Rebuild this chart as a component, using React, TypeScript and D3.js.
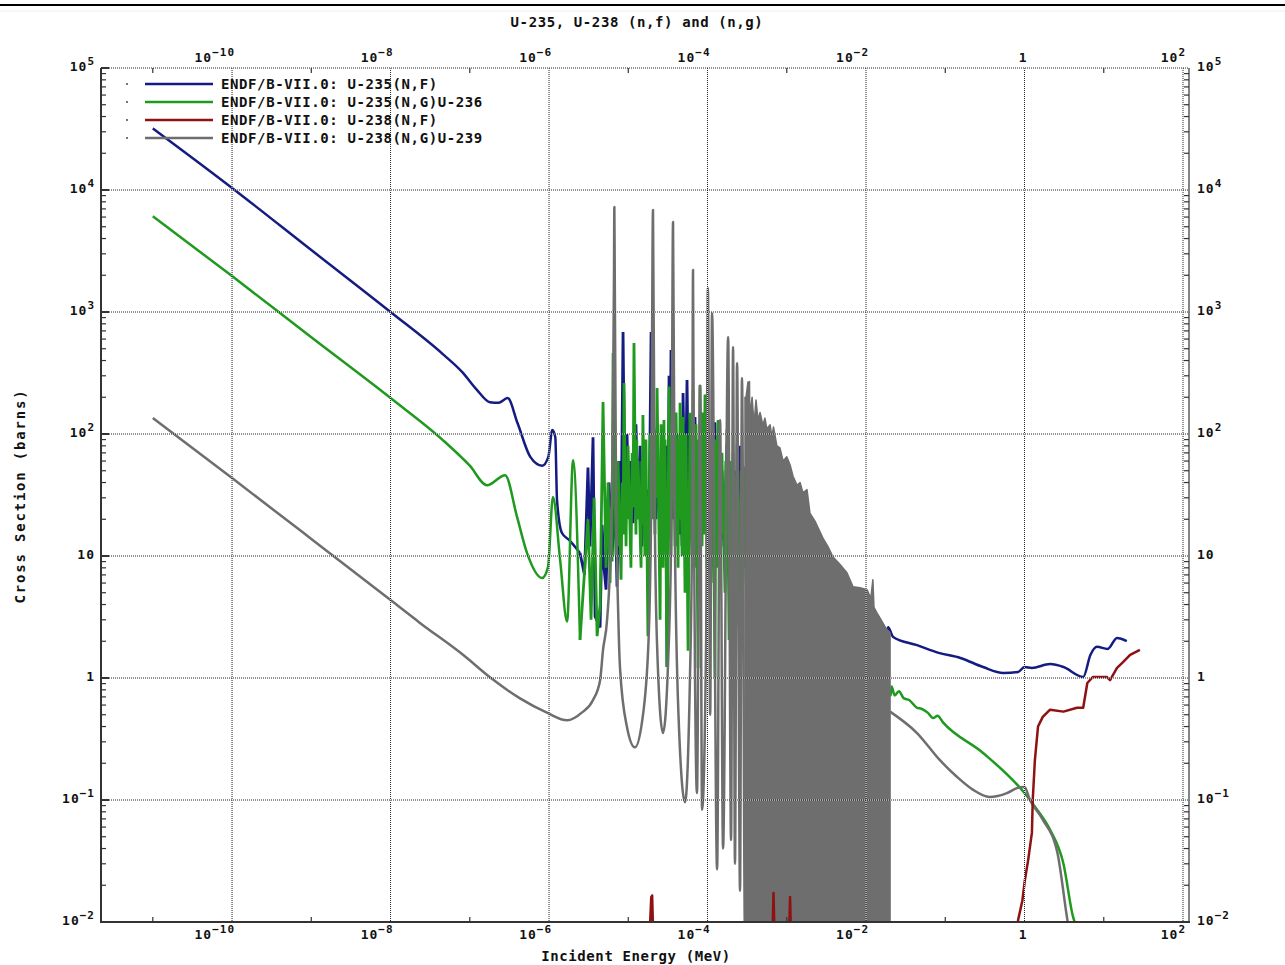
import React from "react";
import * as d3 from "d3";

type Pt = [number, number];

// ---------- text ----------
const TITLE = "U-235, U-238 (n,f) and (n,g)";
const X_LABEL = "Incident Energy (MeV)";
const Y_LABEL = "Cross Section (barns)";
const legendLabels = [
  "ENDF/B-VII.0: U-235(N,F)",
  "ENDF/B-VII.0: U-235(N,G)U-236",
  "ENDF/B-VII.0: U-238(N,F)",
  "ENDF/B-VII.0: U-238(N,G)U-239",
];
const seriesColors = ["#141c82", "#1f9a1f", "#8e1212", "#6e6e6e"];

// ---------- axes ----------
const xDomain: [number, number] = [2.22e-12, 119];
const yDomain: [number, number] = [1e-2, 1e5];
const xMajorTicks = [1e-10, 1e-8, 1e-6, 1e-4, 1e-2, 1, 1e2];
const xMajorLabels: [string, string][] = [
  ["10", "\u221210"], ["10", "\u22128"], ["10", "\u22126"], ["10", "\u22124"], ["10", "\u22122"], ["1", ""], ["10", "2"],
];
const xMinorTicks = [1e-11, 1e-9, 1e-7, 1e-5, 1e-3, 1e-1, 1e1];
const yMajorTicks = [1e5, 1e4, 1e3, 1e2, 10, 1, 1e-1, 1e-2];
const yMajorLabels: [string, string][] = [
  ["10", "5"], ["10", "4"], ["10", "3"], ["10", "2"], ["10", ""], ["1", ""], ["10", "\u22121"], ["10", "\u22122"],
];

// resolved-resonance windows of U-235 curves (drawn as straight segments)
const u235FissionResonances: [number, number] = [2.46e-6, 7.6e-4];
const u235CaptureResonances: [number, number] = [2.46e-6, 4.34e-4];

// ---------- data: [energy MeV, cross section barns] ----------
const u235Fission: Pt[] = [
  [1e-11, 32000], [1e-10, 10400], [1e-9, 3220], [1e-8, 1000], [4.6e-8, 450], [8.1e-8, 320], [1.23e-7, 230],
  [1.8e-7, 182], [2.3e-7, 180], [3.0e-7, 197], [4.0e-7, 123], [5.8e-7, 65], [8.2e-7, 55], [9.8e-7, 65],
  [1.1e-6, 108], [1.2e-6, 94], [1.26e-6, 29], [1.45e-6, 15.5], [1.8e-6, 13.5], [2.46e-6, 10.6], [2.8e-6, 7.0],
  [3.1e-6, 53], [3.29e-6, 12], [3.59e-6, 94], [3.81e-6, 3.2], [4.41e-6, 2.6], [4.67e-6, 18], [4.94e-6, 8],
  [5.24e-6, 5.3], [5.72e-6, 40], [6.24e-6, 10], [6.81e-6, 30], [7.21e-6, 5.6], [7.65e-6, 60], [8.1e-6, 15],
  [8.59e-6, 686], [9.1e-6, 20], [9.64e-6, 100], [1.02e-5, 25], [1.08e-5, 60], [1.15e-5, 18.6], [1.25e-5, 120],
  [1.33e-5, 20], [1.41e-5, 80], [1.49e-5, 12], [1.58e-5, 50], [1.67e-5, 10], [1.72e-5, 35], [1.82e-5, 12],
  [1.94e-5, 686], [2.05e-5, 30], [2.17e-5, 100], [2.24e-5, 20], [2.37e-5, 60], [2.52e-5, 15], [2.67e-5, 90],
  [2.83e-5, 20], [2.99e-5, 80], [3.08e-5, 1.23], [3.27e-5, 300], [3.37e-5, 40], [3.46e-5, 489], [3.67e-5, 20],
  [3.78e-5, 60], [4.01e-5, 15], [4.13e-5, 100], [4.37e-5, 15], [4.5e-5, 80], [4.77e-5, 12], [4.91e-5, 217],
  [5.2e-5, 18], [5.51e-5, 277], [5.85e-5, 15], [6.01e-5, 90], [6.37e-5, 14], [6.95e-5, 138], [7.36e-5, 14],
  [7.59e-5, 70], [8.04e-5, 16], [8.53e-5, 90], [9.04e-5, 20], [9.57e-5, 100], [1.01e-4, 15], [1.08e-4, 60],
  [1.14e-4, 12], [1.24e-4, 125], [1.32e-4, 18], [1.4e-4, 70], [1.48e-4, 14], [1.52e-4, 50], [1.61e-4, 12],
  [1.76e-4, 84], [1.87e-4, 15], [1.98e-4, 40], [2.1e-4, 12], [2.22e-4, 50], [2.36e-4, 14], [2.57e-4, 80],
  [2.72e-4, 14], [2.89e-4, 45], [3.06e-4, 12], [3.24e-4, 40], [3.44e-4, 12], [3.65e-4, 50], [3.98e-4, 14],
  [4.34e-4, 58], [4.73e-4, 16], [5.0e-4, 40], [5.5e-4, 14], [5.8e-4, 45], [6.3e-4, 14], [6.8e-4, 38],
  [7.4e-4, 15], [7.6e-4, 38], [1e-3, 16], [2e-3, 9], [5e-3, 5], [1e-2, 3.6], [0.0174, 2.57], [0.0185, 2.3],
  [0.019, 2.6], [0.022, 2.17], [0.044, 1.86], [0.085, 1.6], [0.155, 1.46], [0.3, 1.23], [0.54, 1.1],
  [0.83, 1.12], [1.0, 1.23], [1.24, 1.21], [2.1, 1.3], [3.1, 1.23], [5.5, 1.02], [6.8, 1.55], [8.2, 1.8],
  [11.2, 1.73], [14.7, 2.13], [19.5, 2.01],
];

const u235Capture: Pt[] = [
  [1e-11, 6100], [1e-10, 1970], [1e-9, 620], [1e-8, 197], [4.5e-8, 90], [1.0e-7, 55], [1.65e-7, 38],
  [2.79e-7, 46], [3.94e-7, 21], [5.27e-7, 10.6], [8.2e-7, 6.6], [9.7e-7, 8.1], [1.12e-6, 30.5], [1.38e-6, 9.3],
  [1.69e-6, 2.9], [2.01e-6, 61], [2.46e-6, 2.05], [3.1e-6, 20], [3.39e-6, 3], [3.7e-6, 30], [4.04e-6, 2.2],
  [4.41e-6, 4], [4.8e-6, 183], [5.24e-6, 8], [5.55e-6, 40], [5.89e-6, 6], [6.1e-6, 25], [6.25e-6, 9],
  [6.43e-6, 461], [7.0e-6, 10], [7.2e-6, 35], [7.3e-6, 12], [7.43e-6, 60], [8.1e-6, 6.4], [8.4e-6, 40],
  [8.6e-6, 15], [8.84e-6, 262], [9.37e-6, 12], [9.6e-6, 45], [9.75e-6, 20], [9.93e-6, 80], [1.08e-5, 8],
  [1.12e-5, 70], [1.15e-5, 25], [1.18e-5, 557], [1.25e-5, 15], [1.28e-5, 90], [1.3e-5, 20], [1.33e-5, 60],
  [1.45e-5, 8], [1.48e-5, 60], [1.5e-5, 18], [1.53e-5, 143], [1.62e-5, 10], [1.67e-5, 90], [1.77e-5, 2.2],
  [1.88e-5, 100], [2.0e-5, 20], [2.05e-5, 420], [2.17e-5, 15], [2.23e-5, 110], [2.27e-5, 30], [2.31e-5, 238],
  [2.52e-5, 3], [2.59e-5, 120], [2.75e-5, 8], [2.82e-5, 130], [2.86e-5, 25], [2.91e-5, 90], [3.08e-5, 1.23],
  [3.27e-5, 245], [3.46e-5, 10], [3.55e-5, 120], [3.6e-5, 30], [3.67e-5, 217], [3.89e-5, 12], [4.01e-5, 150],
  [4.25e-5, 8], [4.35e-5, 90], [4.42e-5, 20], [4.5e-5, 180], [4.77e-5, 10], [4.91e-5, 138], [5.2e-5, 5],
  [5.36e-5, 100], [5.68e-5, 1.67], [6.01e-5, 149], [6.37e-5, 10], [6.45e-5, 80], [6.5e-5, 25], [6.56e-5, 230],
  [6.95e-5, 8], [7.16e-5, 120], [7.59e-5, 1.2], [7.8e-5, 90], [7.9e-5, 20], [8.04e-5, 252], [8.53e-5, 12],
  [8.78e-5, 150], [9.04e-5, 15], [9.29e-5, 211], [9.85e-5, 8], [1.01e-4, 70], [1.025e-4, 20], [1.04e-4, 100],
  [1.11e-4, 6], [1.14e-4, 60], [1.155e-4, 15], [1.17e-4, 119], [1.24e-4, 1.0], [1.28e-4, 90], [1.32e-4, 8],
  [1.36e-4, 130], [1.44e-4, 6], [1.48e-4, 50], [1.5e-4, 15], [1.52e-4, 70], [1.66e-4, 5], [1.7e-4, 60],
  [1.73e-4, 12], [1.76e-4, 110], [1.87e-4, 2.05], [1.92e-4, 60], [2.04e-4, 8], [2.1e-4, 70], [2.22e-4, 6],
  [2.29e-4, 45], [2.32e-4, 10], [2.36e-4, 84], [2.5e-4, 3.3], [2.65e-4, 50], [2.8e-4, 8], [2.89e-4, 54],
  [3.06e-4, 6], [3.15e-4, 40], [3.34e-4, 5.6], [3.44e-4, 31], [3.65e-4, 6], [3.76e-4, 25], [3.98e-4, 5.6],
  [4.09e-4, 20], [4.34e-4, 6], [1e-3, 4], [3e-3, 2.2], [1e-2, 1.1], [0.0195, 0.8], [0.0205, 0.72],
  [0.021, 0.85], [0.023, 0.72], [0.026, 0.78], [0.03, 0.68], [0.035, 0.66], [0.044, 0.57], [0.05, 0.56],
  [0.06, 0.52], [0.07, 0.47], [0.08, 0.49], [0.093, 0.435], [0.3, 0.243], [1.0, 0.114], [1.45, 0.083],
  [2.1, 0.057], [3.1, 0.03], [4.1, 0.011], [4.4, 0.0095],
];

const u238Fission: Pt[] = [
  [1.8e-5, 0.005], [1.95e-5, 0.016], [2.0e-5, 0.0165], [2.1e-5, 0.005],
  [6.5e-4, 0.005], [6.8e-4, 0.0173], [7.1e-4, 0.005],
  [1.05e-3, 0.005], [1.1e-3, 0.016], [1.15e-3, 0.005],
  [0.8, 0.005], [0.83, 0.0104], [0.94, 0.015], [1.01, 0.022], [1.11, 0.032], [1.24, 0.054], [1.27, 0.1],
  [1.35, 0.21], [1.48, 0.4], [1.7, 0.48], [2.1, 0.55], [3.1, 0.53], [4.6, 0.57], [5.5, 0.57], [6.2, 0.91],
  [7.3, 1.02], [10.9, 1.02], [12, 0.96], [14.7, 1.21], [17.5, 1.35], [21.5, 1.55], [28.6, 1.7],
];

const u238CaptureLow: Pt[] = [
  [1e-11, 135], [1e-10, 43.5], [1e-9, 13.8], [1e-8, 4.35], [2.35e-8, 2.83], [8.2e-8, 1.55], [1.96e-7, 0.97],
  [4.3e-7, 0.68], [9.4e-7, 0.52], [1.69e-6, 0.45], [2.59e-6, 0.52], [3.59e-6, 0.66], [4.41e-6, 0.96],
  [4.8e-6, 1.7], [5.4e-6, 3.0], [6.0e-6, 12], [6.4e-6, 150], [6.6e-6, 2000], [6.67e-6, 7260], [6.75e-6, 2000],
  [7.0e-6, 40], [7.5e-6, 3], [7.87e-6, 1.2], [9.6e-6, 0.4], [1.21e-5, 0.27], [1.5e-5, 0.45], [1.8e-5, 2],
  [1.95e-5, 30], [2.05e-5, 6850], [2.15e-5, 30], [2.3e-5, 2], [2.74e-5, 0.354], [3.2e-5, 1.5], [3.5e-5, 20],
  [3.67e-5, 5470], [3.85e-5, 20], [4.3e-5, 0.5], [5.2e-5, 0.096], [6.0e-5, 1.0], [6.4e-5, 20], [6.56e-5, 2210],
  [6.75e-5, 20], [7.36e-5, 0.114], [8.04e-5, 250], [8.53e-5, 0.083], [9.6e-5, 2], [1.01e-4, 1570],
  [1.08e-4, 0.5], [1.14e-4, 982], [1.32e-4, 0.027], [1.44e-4, 130], [1.57e-4, 0.04], [1.82e-4, 624],
  [1.98e-4, 0.047], [2.1e-4, 517], [2.22e-4, 0.03], [2.36e-4, 382], [2.57e-4, 0.018], [2.72e-4, 288],
  [2.97e-4, 0.008], [3.34e-4, 267], [3.55e-4, 0.006],
];

// dense unresolved band of U-238 (n,g): upper envelope
const u238CaptureBand: Pt[] = [
  [2.97e-4, 200], [3.06e-4, 200], [3.24e-4, 267], [3.44e-4, 150], [3.65e-4, 200], [3.86e-4, 120],
  [4.09e-4, 190], [4.34e-4, 130], [4.6e-4, 150], [5.0e-4, 118], [5.3e-4, 135], [5.6e-4, 110], [6.16e-4, 119],
  [6.5e-4, 95], [6.8e-4, 114], [7.5e-4, 80], [8.2e-4, 77], [9e-4, 60], [1.0e-3, 65], [1.1e-3, 56],
  [1.2e-3, 45], [1.35e-3, 38], [1.47e-3, 40], [1.6e-3, 33], [1.8e-3, 35], [1.96e-3, 22.5], [2.3e-3, 19],
  [2.86e-3, 14], [3.3e-3, 12], [3.84e-3, 9.8], [4.7e-3, 8.5], [5.75e-3, 7.3], [6.86e-3, 5.6], [8.4e-3, 5.5],
  [1.03e-2, 5.3], [1.15e-2, 4.5], [1.22e-2, 6.4], [1.26e-2, 3.8], [1.38e-2, 3.4], [1.55e-2, 3.0],
  [1.74e-2, 2.6], [2.01e-2, 2.34],
];

const u238CaptureHigh: Pt[] = [
  [0.0201, 0.53], [0.044, 0.354], [0.085, 0.213], [0.14, 0.155], [0.225, 0.121], [0.36, 0.106],
  [0.6, 0.114], [0.8, 0.125], [1.0, 0.128], [1.17, 0.1], [1.7, 0.069], [2.6, 0.037], [3.45, 0.0107],
  [3.6, 0.009],
];

const FONT = "'DejaVu Sans Mono', 'Liberation Mono', monospace";

function splitAt(data: Pt[], lo: number, hi: number): [Pt[], Pt[], Pt[]] {
  return [
    data.filter((d) => d[0] <= lo),
    data.filter((d) => d[0] >= lo && d[0] <= hi),
    data.filter((d) => d[0] >= hi),
  ];
}

export default function App() {
  const L = 101, R = 1189, T = 68, B = 922;
  const x = d3.scaleLog().domain(xDomain).range([L, R]);
  const y = d3.scaleLog().domain(yDomain).range([B, T]);
  const smooth = d3.line<Pt>().x((d) => x(d[0])).y((d) => y(d[1])).curve(d3.curveMonotoneX);
  const sharp = d3.line<Pt>().x((d) => x(d[0])).y((d) => y(d[1]));
  const band = d3.area<Pt>().x((d) => x(d[0])).y0(B + 10).y1((d) => y(d[1]));

  const [fLo, fMid, fHi] = splitAt(u235Fission, u235FissionResonances[0], u235FissionResonances[1]);
  const [gLo, gMid, gHi] = splitAt(u235Capture, u235CaptureResonances[0], u235CaptureResonances[1]);

  const yMinor: number[] = [];
  for (let e = -2; e < 5; e++) for (let k = 2; k <= 9; k++) yMinor.push(k * Math.pow(10, e));

  const tickText = { fontFamily: FONT, fontWeight: 700, fontSize: 13, letterSpacing: 1.0, fill: "#111" } as const;
  const supSize = 11;
  const bigText = { fontFamily: FONT, fontWeight: 700, fontSize: 14, letterSpacing: 0.6, fill: "#111" } as const;

  const powLabel = (key: string, px: number, py: number, base: string, exp: string, anchor: "start" | "end") => (
    <text key={key} x={px} y={py} textAnchor={anchor} style={tickText}>
      <tspan>{base}</tspan>
      {exp ? <tspan dy={-6} fontSize={supSize}>{exp}</tspan> : null}
    </text>
  );

  const legendRows = [84, 102, 120, 138];
  const SW = 2.5;
  const SWR = 2.8;

  return (
    <svg width={1285} height={965} style={{ position: "absolute", left: 0, top: 0, background: "#fff" }}>
      <defs>
        <clipPath id="plotClip">
          <rect x={L} y={T} width={R - L} height={B - T} />
        </clipPath>
      </defs>
      <rect x={0} y={0} width={1285} height={965} fill="#fff" />
      <line x1={0} x2={1285} y1={5} y2={5} stroke="#000" strokeWidth={2} />
      <line x1={0} x2={1285} y1={11} y2={11} stroke="#eee" strokeWidth={1} />

      {/* title */}
      <text x={637} y={27} textAnchor="middle" style={bigText}>{TITLE}</text>

      {/* data */}
      <g clipPath="url(#plotClip)" fill="none" strokeLinejoin="round">
        <path d={smooth(fLo) || ""} stroke={seriesColors[0]} strokeWidth={SW} />
        <path d={sharp(fMid) || ""} stroke={seriesColors[0]} strokeWidth={SWR} strokeLinejoin="miter" strokeMiterlimit={2} />
        <path d={smooth(fHi) || ""} stroke={seriesColors[0]} strokeWidth={SW} />
        <path d={smooth(gLo) || ""} stroke={seriesColors[1]} strokeWidth={SW} />
        <path d={sharp(gMid) || ""} stroke={seriesColors[1]} strokeWidth={SWR} strokeLinejoin="miter" strokeMiterlimit={2} />
        <path d={smooth(gHi) || ""} stroke={seriesColors[1]} strokeWidth={SW} />
        <path d={band(u238CaptureBand) || ""} fill={seriesColors[3]} stroke={seriesColors[3]} strokeWidth={1.5} />
        <path d={smooth(u238CaptureLow) || ""} stroke={seriesColors[3]} strokeWidth={SW} />
        <path d={smooth(u238CaptureHigh) || ""} stroke={seriesColors[3]} strokeWidth={SW} />
        <path d={sharp(u238Fission) || ""} stroke={seriesColors[2]} strokeWidth={SW} />
      </g>

      {/* grid */}
      <g>
        {xMajorTicks.map((v) => (
          <g key={"gx" + v}>
            <line x1={x(v)} x2={x(v)} y1={T} y2={B} stroke="#fff" strokeWidth={1} strokeDasharray="1 1" strokeDashoffset={1} opacity={0.8} />
            <line x1={x(v)} x2={x(v)} y1={T} y2={B} stroke="#222" strokeWidth={1} strokeDasharray="1 1" />
          </g>
        ))}
        {yMajorTicks.map((v) => (
          <g key={"gy" + v}>
            <line x1={L} x2={R} y1={y(v)} y2={y(v)} stroke="#fff" strokeWidth={1} strokeDasharray="1 1" strokeDashoffset={1} opacity={0.8} />
            <line x1={L} x2={R} y1={y(v)} y2={y(v)} stroke="#222" strokeWidth={1} strokeDasharray="1 1" />
          </g>
        ))}
      </g>

      {/* axes */}
      <line x1={L} x2={L} y1={T} y2={B + 1} stroke="#333" strokeWidth={2} />
      <line x1={L} x2={R + 1} y1={B} y2={B} stroke="#333" strokeWidth={2} />
      <line x1={R} x2={R} y1={T} y2={B} stroke="#333" strokeWidth={1.2} />
      {yMinor.map((v) => (
        <g key={"ym" + v}>
          <line x1={L} x2={L + 5} y1={y(v)} y2={y(v)} stroke="#333" strokeWidth={1.2} />
          <line x1={R} x2={R - 5} y1={y(v)} y2={y(v)} stroke="#333" strokeWidth={1.2} />
        </g>
      ))}
      {yMajorTicks.map((v) => (
        <line key={"yM" + v} x1={L} x2={L + 8} y1={y(v)} y2={y(v)} stroke="#333" strokeWidth={2} />
      ))}
      {xMinorTicks.map((v) => (
        <g key={"xm" + v}>
          <line x1={x(v)} x2={x(v)} y1={T} y2={T + 5} stroke="#333" strokeWidth={1.2} />
          <line x1={x(v)} x2={x(v)} y1={B} y2={B - 5} stroke="#333" strokeWidth={1.2} />
        </g>
      ))}

      {/* tick labels */}
      {xMajorTicks.map((v, i) => powLabel("xt" + i, x(v) + 3, 62, xMajorLabels[i][0], xMajorLabels[i][1], "end"))}
      {xMajorTicks.map((v, i) => powLabel("xb" + i, x(v) + 3, 939, xMajorLabels[i][0], xMajorLabels[i][1], "end"))}
      {yMajorTicks.map((v, i) => powLabel("yl" + i, 95, y(v) + 3, yMajorLabels[i][0], yMajorLabels[i][1], "end"))}
      {yMajorTicks.map((v, i) => powLabel("yr" + i, 1197, y(v) + 3, yMajorLabels[i][0], yMajorLabels[i][1], "start"))}

      {/* axis titles */}
      <text x={636} y={961} textAnchor="middle" style={bigText}>{X_LABEL}</text>
      <text transform="translate(25,496) rotate(-90)" textAnchor="middle" style={{ ...bigText, fontSize: 14, letterSpacing: 1.8 }}>{Y_LABEL}</text>

      {/* legend */}
      {legendLabels.map((lab, i) => (
        <g key={"lg" + i}>
          <circle cx={127} cy={legendRows[i]} r={0.9} fill="#333" />
          <line x1={145} x2={213} y1={legendRows[i]} y2={legendRows[i]} stroke={seriesColors[i]} strokeWidth={2.6} />
          <text x={221} y={legendRows[i] + 5} style={bigText}>{lab}</text>
        </g>
      ))}
    </svg>
  );
}
